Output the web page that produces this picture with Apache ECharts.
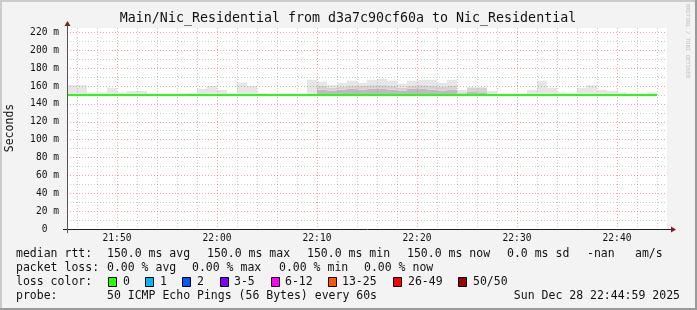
<!DOCTYPE html>
<html><head><meta charset="utf-8">
<script src="https://cdn.jsdelivr.net/npm/echarts@6/dist/echarts.min.js"></script>
<style>html,body{margin:0;padding:0;background:#f3f3f3}#c{width:697px;height:310px}</style>
</head><body><div id="c"></div><script>
// time categories, one per minute (21:45 .. 22:45)
const times = ['21:45','21:46','21:47','21:48','21:49','21:50','21:51','21:52','21:53','21:54','21:55','21:56','21:57','21:58','21:59',
 '22:00','22:01','22:02','22:03','22:04','22:05','22:06','22:07','22:08','22:09','22:10','22:11','22:12','22:13','22:14',
 '22:15','22:16','22:17','22:18','22:19','22:20','22:21','22:22','22:23','22:24','22:25','22:26','22:27','22:28','22:29',
 '22:30','22:31','22:32','22:33','22:34','22:35','22:36','22:37','22:38','22:39','22:40','22:41','22:42','22:43','22:44','22:45'];
// median rtt (ms) at each minute point
const median = [150,150,150,150,150,150,150,150,150,150,150,150,150,150,150,150,150,150,150,150,
 150,150,150,150,150,150,150,150,150,150,150,150,150,150,150,150,150,150,150,150,
 150,150,150,150,150,150,150,150,150,150,150,150,150,150,150,150,150,150,150,150];
// smoke (ping spread) per one-minute column: top of light, medium and dark layers (ms)
const smokeTop = [161,161,153,153,158,153,154.5,154.5,150,150,150,150,151.6,157,160,155.6,150,164,160,152,
 150,150,150,150,167,165,161,163.6,166,163.6,167,168,166,162.5,166,167,167,163.6,167,155.7,
 159,159,154.5,150,150,150,155.7,166,158,153,152,158,161,155.7,154.5,153,150,150,153];
const smokeMid = [150,150,150,150,150,150,150,150,150,150,150,150,150,150,150,150,150,150,150,150,
 150,150,150,150,150,160,158,159,160,160,161,161,160,158,160,161,160,159,160,153,
 158,158,150,150,150,150,150,150,150,150,150,150,150,150,150,150,150,150,150];
const smokeDark = [150,150,150,150,150,150,150,150,150,150,150,150,150,150,150,150,150,150,150,150,
 150,150,150,150,150,156,155,156,157,156,157,157,156,155,157,157,156,155,156,151,
 154,153,150,150,150,150,150,150,150,150,150,150,150,150,150,150,150,150,150];
const yTickStep = 20;
const titleText = 'Main/Nic_Residential from d3a7c90cf60a to Nic_Residential';
const rttStats = ['median rtt:','150.0 ms avg','150.0 ms max','150.0 ms min','150.0 ms now','0.0 ms sd','-nan','am/s'];
const lossStats = ['packet loss:','0.00 % avg','0.00 % max','0.00 % min','0.00 % now'];
const lossLabels = ['0','1','2','3-5','6-12','13-25','26-49','50/50'];
const lossColors = ['#26ff00','#00b8ff','#0059ff','#7e00ff','#ff00ff','#ff5500','#ff0000','#a10000'];
const probeText = ['probe:','50 ICMP Echo Pings (56 Bytes) every 60s','Sun Dec 28 22:44:59 2025'];

const mono = '"DejaVu Sans Mono", monospace';
const GRID = 'rgba(143,143,143,0.45)';
const MGRID = 'rgba(232,80,80,0.5)';
const slots = times.slice(0, 60);

const base = smokeTop.map((v, i) => median[i]);
const darkD = smokeDark.map((v, i) => v - base[i]);
const midD = smokeMid.map((v, i) => v - smokeDark[i]);
const lightD = smokeTop.map((v, i) => v - smokeMid[i]);

function txt(x, y, t, size, align, extra) {
  return Object.assign({type:'text', x:x, y:y, silent:true, z:10,
    style:{text:t, font: size + 'px ' + mono, fill:'#111', textAlign:align||'left', align:align||'left',
      textVerticalAlign:'middle', verticalAlign:'middle'}}, extra||{});
}
const g = [];
// frame
g.push({type:'rect', shape:{x:0,y:0,width:697,height:2}, style:{fill:'#cbcbcb'}, silent:true});
g.push({type:'rect', shape:{x:0,y:0,width:2,height:310}, style:{fill:'#cbcbcb'}, silent:true});
g.push({type:'rect', shape:{x:695,y:0,width:2,height:310}, style:{fill:'#9a9a9a'}, silent:true});
g.push({type:'rect', shape:{x:0,y:308,width:697,height:2}, style:{fill:'#9a9a9a'}, silent:true});
// axes lines and arrows
g.push({type:'line', shape:{x1:63,y1:229.5,x2:672,y2:229.5}, style:{stroke:'#202020',lineWidth:1}, silent:true, z:10});
g.push({type:'polygon', shape:{points:[[671,226.5],[671,232.5],[676,229.5]]}, style:{fill:'#7f1f1f'}, silent:true, z:10});
g.push({type:'line', shape:{x1:67.5,y1:233,x2:67.5,y2:25}, style:{stroke:'#555555',lineWidth:1}, silent:true, z:10});
g.push({type:'polygon', shape:{points:[[64.5,26],[70.5,26],[67.5,21]]}, style:{fill:'#7f1f1f'}, silent:true, z:10});
// title, y name, watermark
g.push(txt(348, 19, titleText, 13.3, 'center'));
g.push(txt(10, 128, 'Seconds', 11.5, 'center', {rotation: Math.PI/2}));
g.push({type:'text', x:687, y:4, rotation:-Math.PI/2, silent:true,
  style:{text:'RRDTOOL / TOBI OETIKER', font:'5.6px ' + mono, fill:'#bdbdbd', textAlign:'left', align:'left', textVerticalAlign:'middle', verticalAlign:'middle'}});
// legend rows
const rttX = [16,107,207,307,407,507,587,635];
rttStats.forEach((t,i)=>g.push(txt(rttX[i], 254, t, 11.5)));
const lossX = [16,107,192,279,364];
lossStats.forEach((t,i)=>g.push(txt(lossX[i], 268, t, 11.5)));
g.push(txt(16, 282, 'loss color:', 11.5));
const boxX = [108,145,182,220,271,328,393,458];
const labX = [123,160,197,234,285,342,408,473];
lossLabels.forEach((t,i)=>{
  g.push({type:'rect', shape:{x:boxX[i]+0.5,y:277.5,width:8,height:9}, style:{fill:lossColors[i], stroke:'#000', lineWidth:1}, silent:true, z:10});
  g.push(txt(labX[i], 282, t, 11.5));
});
g.push(txt(16, 296, probeText[0], 11.5));
g.push(txt(107, 296, probeText[1], 11.5));
g.push(txt(680, 296, probeText[2], 11.5, 'right'));

const chart = echarts.init(document.getElementById('c'), null, {renderer:'canvas', width:697, height:310});
chart.setOption({
  animation:false,
  backgroundColor:'#f3f3f3',
  grid:{left:67, top:28, width:600, height:201, show:true, backgroundColor:'#ffffff', borderWidth:0},
  xAxis:[
    {type:'category', data:times, boundaryGap:false, z:3,
     axisLine:{show:false}, axisTick:{show:false},
     axisLabel:{interval:(i)=> i%10===5, fontFamily:mono, fontSize:9.6, color:'#111', margin:4},
     splitLine:{show:true, interval:(i)=> i%10===5, lineStyle:{color:MGRID, type:[1,2], width:1}}},
    {type:'category', data:times, boundaryGap:false, z:3,
     axisLine:{show:false}, axisTick:{show:false}, axisLabel:{show:false},
     splitLine:{show:true, interval:(i)=> i%2===1 && i%10!==5, lineStyle:{color:GRID, type:[1,2], width:1}}},
    {type:'category', data:slots, boundaryGap:true, show:false}
  ],
  yAxis:[
    {type:'value', min:0, max:225, interval:yTickStep, z:3,
     axisLine:{show:false}, axisTick:{show:false},
     axisLabel:{formatter:(v)=> v===0 ? '0  ' : v + ' m', showMaxLabel:false, margin:8, fontFamily:mono, fontSize:9.6, color:'#111'},
     splitLine:{show:true, showMinLine:false, showMaxLine:false, lineStyle:{color:MGRID, type:[1,2], width:1}}},
    {type:'value', min:0, max:225, interval:yTickStep/2, z:3,
     axisLine:{show:false}, axisTick:{show:false}, axisLabel:{show:false},
     splitLine:{show:true, showMaxLine:false, lineStyle:{color:['rgba(0,0,0,0)', GRID], type:[1,2], width:1}}}
  ],
  series:[
    {type:'bar', xAxisIndex:2, yAxisIndex:0, stack:'smoke', barWidth:'100%', data:base, itemStyle:{color:'rgba(0,0,0,0)'}, silent:true, z:2},
    {type:'bar', xAxisIndex:2, yAxisIndex:0, stack:'smoke', barWidth:'100%', data:darkD, itemStyle:{color:'#bcbcbc'}, silent:true, z:2},
    {type:'bar', xAxisIndex:2, yAxisIndex:0, stack:'smoke', barWidth:'100%', data:midD, itemStyle:{color:'#d3d3d3'}, silent:true, z:2},
    {type:'bar', xAxisIndex:2, yAxisIndex:0, stack:'smoke', barWidth:'100%', data:lightD, itemStyle:{color:'#e6e6e6'}, silent:true, z:2},
    {type:'line', xAxisIndex:0, yAxisIndex:0, data:median, symbol:'none', lineStyle:{color:'#2ef51a', width:2}, silent:true, z:5}
  ],
  graphic:g
});
</script></body></html>
